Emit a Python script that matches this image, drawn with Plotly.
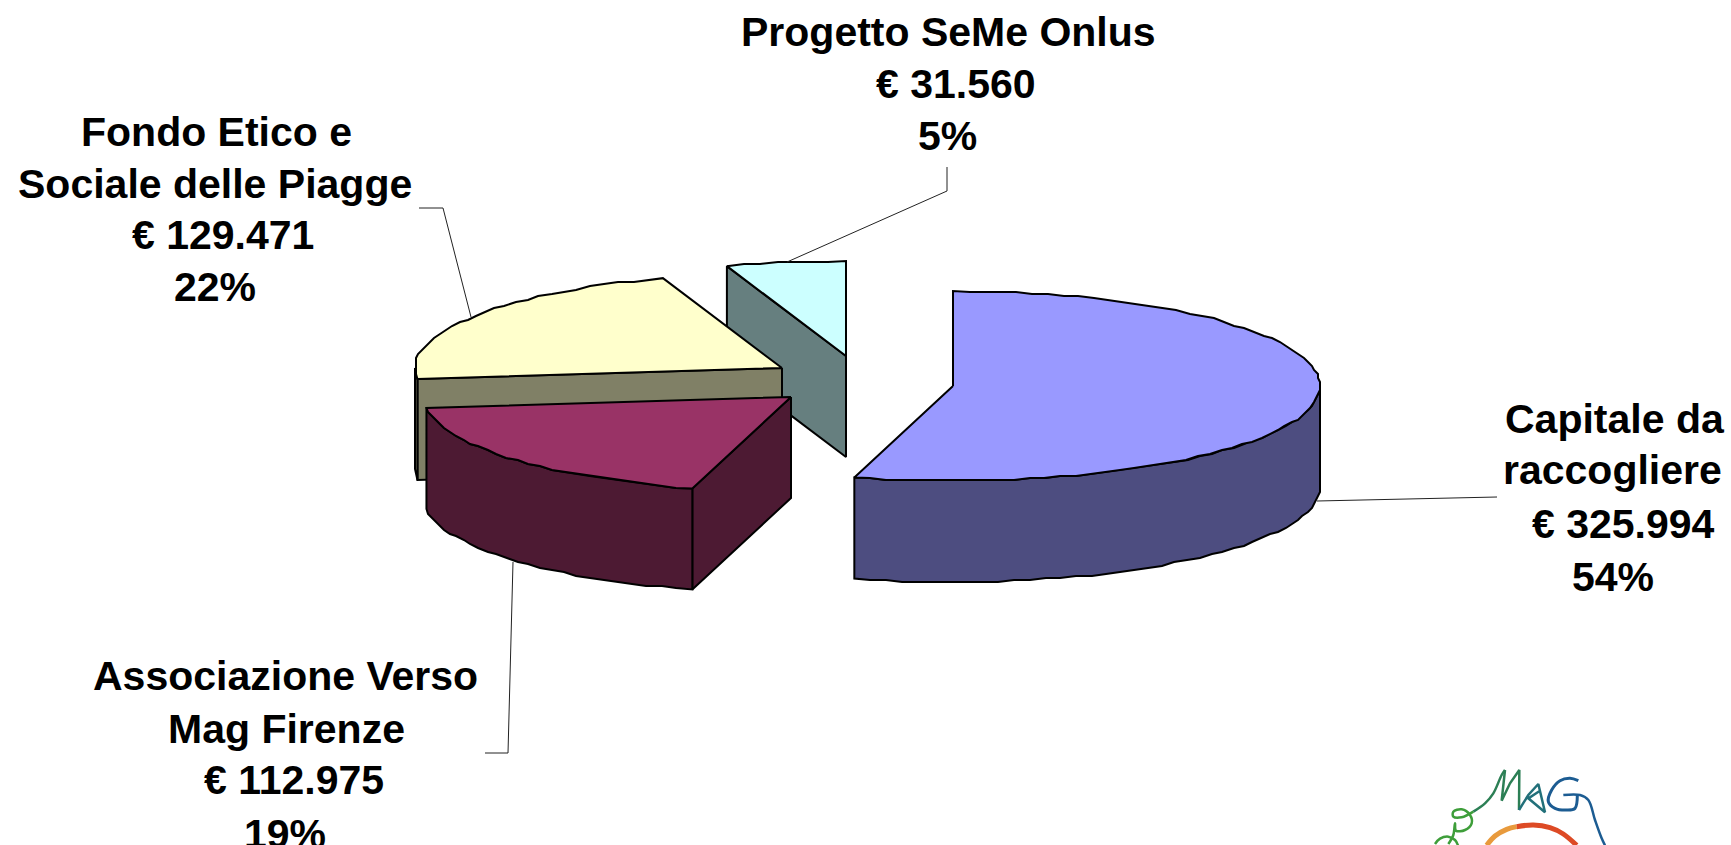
import math
import plotly.graph_objects as go

# ---------- data ----------
name_lines = [["Capitale da", "raccogliere"],
              ["Associazione Verso", "Mag Firenze"],
              ["Fondo Etico e", "Sociale delle Piagge"],
              ["Progetto SeMe Onlus"]]
amounts = [325994, 112975, 129471, 31560]

# ---------- styles / layout ----------
top_colors = ["#9999FF", "#993366", "#FFFFCC", "#CCFFFF"]
side_colors = ["#4D4D80", "#4D1A33", "#808066", "#667F7F"]
apex = [(953, 386), (791, 397), (782, 368), (846, 356)]
RX, RY, DEPTH = 367, 95, 101
draw_order = [3, 2, 1, 0]
label_centers = [[1615, 1612, 1623, 1613], [285, 286, 294, 285], [216, 215, 223, 215], [948, 956, 947]]
label_baselines = [[432, 483, 537, 590], [689, 742, 793, 847], [145, 197, 248, 300], [45, 97, 149]]
leaders = [[(1497, 497), (1317, 501)],
           [(485, 753), (508, 753), (513, 562)],
           [(419, 208), (443, 208), (471, 317)],
           [(947, 167), (947, 191), (787, 262)]]
FONT = "Liberation Sans, Arial, sans-serif"
FSIZE = 41
BASE_SHIFT = 13


def pt(c, a, dz=0):
    r = math.radians(a)
    return c[0] + RX * math.sin(r), c[1] - RY * math.cos(r) + dz


def arc(c, a0, a1, dz=0):
    if a1 <= a0:
        return []
    n = max(2, int((a1 - a0) / 2.5))
    pts = []
    for i in range(n + 1):
        x, y = pt(c, a0 + (a1 - a0) * i / n, dz)
        if 0 < i < n:
            x, y = round(x / 2) * 2, round(y / 2) * 2
        pts.append((x, y))
    return pts


def poly(fig, pts, fill, width=2.0, name=None):
    pts = pts + [pts[0]]
    fig.add_trace(go.Scatter(x=[p[0] for p in pts], y=[p[1] for p in pts], mode="lines", fill="toself",
                             fillcolor=fill, line=dict(color="#000000", width=width),
                             hoverinfo="skip" if name is None else "text", text=name))


fig = go.Figure()
total = sum(amounts)
angles = []
acc = 0.0
for v in amounts:
    angles.append((acc, acc + v / total * 360))
    acc += v / total * 360

for i in draw_order:
    c, (a0, a1) = apex[i], angles[i]
    # radial face on the start edge
    if 180 < a0 < 360:
        s = pt(c, a0)
        poly(fig, [c, s, (s[0], s[1] + DEPTH), (c[0], c[1] + DEPTH)], side_colors[i])
    # outer wall
    w0, w1 = max(a0, 90), min(a1, 270)
    if w1 > w0:
        poly(fig, arc(c, w0, w1) + arc(c, w0, w1, DEPTH)[::-1], side_colors[i])
    # top
    poly(fig, [c] + arc(c, a0, a1), top_colors[i], name=" ".join(name_lines[i]))

for seg in leaders:
    fig.add_trace(go.Scatter(x=[p[0] for p in seg], y=[p[1] for p in seg], mode="lines",
                             line=dict(color="#222222", width=1), hoverinfo="skip"))

# logo decoration (pixel coordinates inside the crop of the logo)
def lz(points):
    return [1420 + p[0] / 3 for p in points], [760 + p[1] / 3 for p in points]

logo = [
    ("#3E9E3A", 2.5, "spline", [(45, 252), (60, 236), (85, 230), (105, 240), (114, 256)]),
    ("#3E9E3A", 2.5, "spline", [(85, 252), (100, 225), (105, 190), (108, 212), (135, 210), (155, 190), (150, 165),
                               (125, 148), (100, 155), (100, 170), (125, 172), (160, 155)]),
    ("#2C7F55", 2.5, "spline", [(160, 155), (195, 130), (220, 100), (245, 45), (255, 30)]),
    ("#2C7F55", 2.5, "linear", [(255, 30), (245, 122), (270, 70), (298, 30), (297, 150)]),
    ("#22707A", 2.5, "linear", [(297, 150), (325, 105), (355, 72), (375, 157), (325, 115), (360, 92)]),
    ("#1C5C92", 3, "spline", [(475, 62), (450, 55), (420, 62), (395, 90), (385, 125), (405, 145), (440, 150), (465, 145), (472, 105)]),
    ("#1C5C92", 2.5, "spline", [(430, 105), (480, 105), (505, 120), (525, 180), (545, 235), (555, 256)]),
    ("#E89A3C", 5, "spline", [(200, 256), (225, 228), (260, 208), (290, 200)]),
    ("#DD4A25", 5, "spline", [(290, 200), (340, 195), (390, 203), (430, 222), (470, 256)]),
]
for col, w, shp, pts in logo:
    xs, ys = lz(pts)
    fig.add_trace(go.Scatter(x=xs, y=ys, mode="lines", line=dict(color=col, width=w, shape=shp), hoverinfo="skip"))

annotations = []
for i in range(len(amounts)):
    euro = "€ " + f"{amounts[i]:,}".replace(",", ".")
    pct = f"{round(amounts[i] / total * 100)}%"
    lines = name_lines[i] + [euro, pct]
    for t, cx, by in zip(lines, label_centers[i], label_baselines[i]):
        annotations.append(dict(x=cx, y=by - BASE_SHIFT, text=f"<b>{t}</b>", showarrow=False, xanchor="center",
                                yanchor="middle", xref="x", yref="y", font=dict(family=FONT, size=FSIZE, color="#000000")))
annotations.append(dict(x=1630, y=853, text="F i r e n z e", showarrow=False, xanchor="left", yanchor="middle",
                        xref="x", yref="y", font=dict(family="Liberation Serif, serif", size=26, color="#2A2A7A")))

fig.update_layout(width=1731, height=845, margin=dict(l=0, r=0, t=0, b=0, pad=0), showlegend=False,
                  paper_bgcolor="#FFFFFF", plot_bgcolor="#FFFFFF", annotations=annotations,
                  xaxis=dict(range=[0, 1731], visible=False, fixedrange=True),
                  yaxis=dict(range=[845, 0], visible=False, fixedrange=True))
fig.write_html("out.html", config=dict(displayModeBar=False),
               post_script="document.body.style.margin='0';document.body.style.overflow='hidden';")
